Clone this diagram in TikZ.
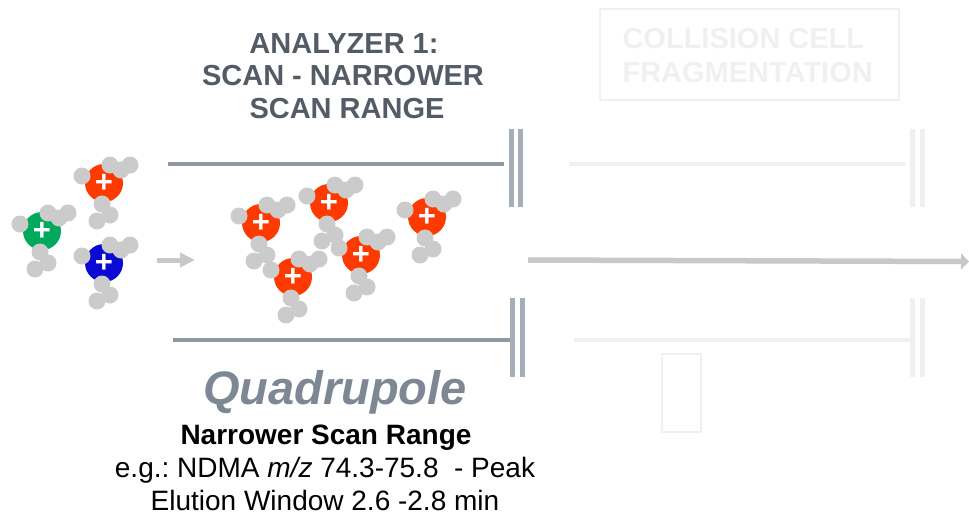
\documentclass[tikz,border=0pt]{standalone}
\usepackage{fontspec}
\setmainfont{Liberation Sans}
\usepackage{xcolor}
\usetikzlibrary{arrows.meta}
\frenchspacing

\definecolor{rod}{HTML}{8E98A3}
\definecolor{bar}{HTML}{A6AEB7}
\definecolor{head}{HTML}{535C66}
\definecolor{quad}{HTML}{7D8894}
\definecolor{faint}{HTML}{F0F0F0}
\definecolor{beam}{HTML}{C8C8C8}
\definecolor{atomgrey}{HTML}{CBCBCB}
\definecolor{ionred}{HTML}{FF3A00}
\definecolor{iongreen}{HTML}{00A95C}
\definecolor{ionblue}{HTML}{0A0AD2}

% one charged molecule: coloured core with a plus, grey atoms round it
\newcommand{\ionmol}[3]{%
\node[core,fill=#3] (#1) at (#2) {+};
\begin{scope}[shift={(#2)}]
\foreach \dx/\dy in {-22/-7,6/-18,17/-13,26/-18,-2/21,6/32,-7/38}
  \fill[atomgrey] (\dx,\dy) circle (8.5);
\end{scope}}

\begin{document}
\begin{tikzpicture}[x=1pt,y=-1pt,
  core/.style={circle,minimum size=38,inner sep=0,text=white,font=\fontsize{31}{31}\selectfont\bfseries},
  big/.style={font=\fontsize{29}{33}\selectfont\bfseries},
  txt/.style={font=\fontsize{28}{32}\selectfont,anchor=base}]
\useasboundingbox (0,0) rectangle (969,515);

% analyzer 1 rods
\draw[rod,line width=4] (168,164) -- (504,164);
\draw[rod,line width=4] (173,340) -- (510,340);
\foreach \x in {511,520} \draw[bar,line width=5] (\x,129) -- (\x,207);
\foreach \x in {512,522} \draw[bar,line width=5] (\x,298) -- (\x,377);

% collision cell, greyed out
\draw[faint,line width=2] (600,9) rectangle (899,100);
\node[big,text=faint,anchor=base west] (c1) at (619,48) {COLLISION CELL};
\node[big,text=faint,anchor=base west] (c2) at (619,82) {FRAGMENTATION};
\draw[faint,line width=4] (569,164) -- (905,164);
\draw[faint,line width=4] (574,340) -- (910,340);
\foreach \x in {912,922} {
  \draw[faint,line width=5] (\x,129) -- (\x,207);
  \draw[faint,line width=5] (\x,298) -- (\x,377);
}
\draw[faint,line width=2] (662,354) rectangle (701,432);

% ion beam
\coordinate (b0) at (528,260);
\coordinate (b1) at (969,261.5);
\draw[beam,line width=5.5,-{Triangle[length=8,width=16]}] (b0) -- (b1);
\coordinate (a0) at (157,260);
\coordinate (a1) at (195,260);
\draw[beam,line width=5,-{Triangle[length=15,width=14]}] (a0) -- (a1);

% ions entering
\ionmol{i1}{104,183}{ionred}
\ionmol{i2}{42,231}{iongreen}
\ionmol{i3}{104,263}{ionblue}
% ions let through
\ionmol{i4}{261,223}{ionred}
\ionmol{i5}{329,203}{ionred}
\ionmol{i6}{293,277}{ionred}
\ionmol{i7}{361,255}{ionred}
\ionmol{i8}{427,217}{ionred}

% labels
\node[big,text=head,anchor=base] (t1) at (344,53) {ANALYZER 1:};
\node[big,text=head,anchor=base] (t2) at (343,85) {SCAN - NARROWER};
\node[big,text=head,anchor=base] (t3) at (347,118) {SCAN RANGE};

\node[anchor=base,text=quad,font=\fontsize{47}{47}\selectfont\bfseries\itshape] (q) at (335,404) {Quadrupole};
\node[txt,font=\fontsize{28}{32}\selectfont\bfseries] (n1) at (326,444) {Narrower Scan Range};
\node[txt] (n2) at (325,477) {e.g.: NDMA \textit{m/z} 74.3-75.8~ - Peak};
\node[txt] (n3) at (325,510) {Elution Window 2.6 -2.8 min};
\end{tikzpicture}
\end{document}
